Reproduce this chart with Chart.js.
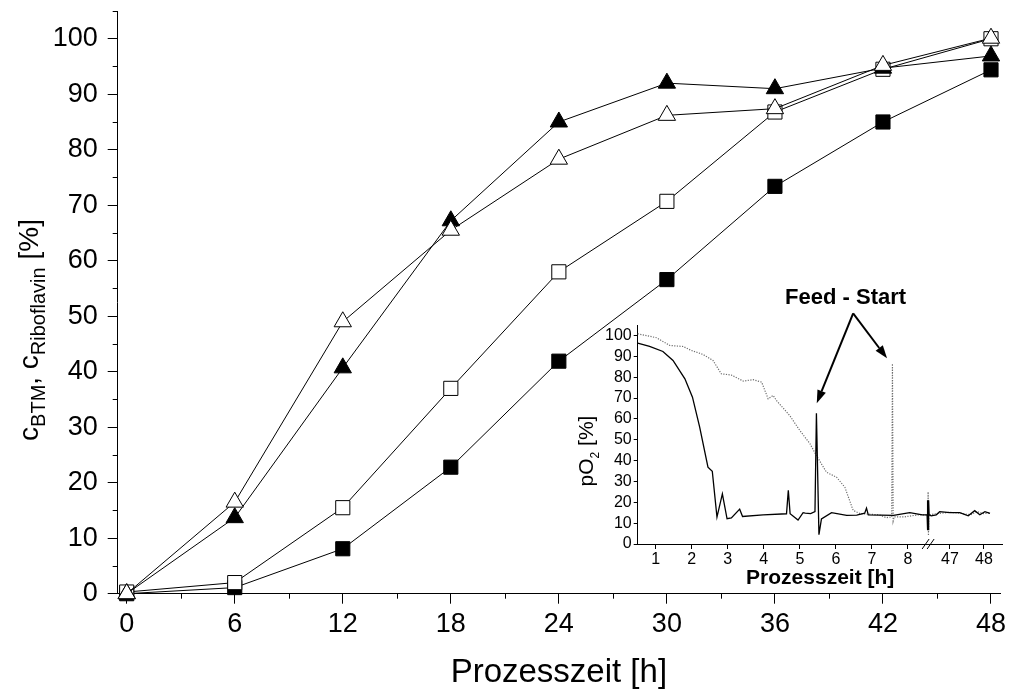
<!DOCTYPE html>
<html>
<head>
<meta charset="utf-8">
<script src="https://cdn.jsdelivr.net/npm/chart.js@4/dist/chart.umd.min.js"></script>
<style>
  html, body { margin: 0; padding: 0; background: #fff; }
  #wrap { position: relative; width: 1011px; height: 690px; overflow: hidden; }
  #main { position: absolute; left: 0; top: 0; }
  #inset { position: absolute; left: 560px; top: 280px; }
</style>
</head>
<body>
<div id="wrap">
  <canvas id="main" width="1011" height="690"></canvas>
  <canvas id="inset" width="451" height="320"></canvas>
</div>
<script>
// ---------- main plot: concentrations over process time ----------
const hours          = [0, 6, 12, 18, 24, 30, 36, 42, 48];
const openTriangle   = [0, 16.5, 49.0, 65.5, 78.3, 86.2, 87.4, 95.2, 100.1];
const filledTriangle = [0, 13.7, 40.7, 67.2, 85.0, 92.0, 91.0, 94.7, 96.9];
const openSquare     = [0.3, 2.0, 15.5, 37.0, 58.0, 70.7, 86.8, 94.5, 100.0];
const filledSquare   = [0, 1.1, 8.1, 22.8, 41.9, 56.6, 73.4, 85.0, 94.4];

const xMajorTicks = [0, 6, 12, 18, 24, 30, 36, 42, 48];
const xMinorTicks = [3, 9, 15, 21, 27, 33, 39, 45];
const yMajorTicks = [0, 10, 20, 30, 40, 50, 60, 70, 80, 90, 100];
const yMinorTicks = [5, 15, 25, 35, 45, 55, 65, 75, 85, 95, 105];

// ---------- inset: dissolved oxygen (pO2) ----------
// time axis with a break between 8.56 h and 46.36 h
const insetTickHours = [1, 2, 3, 4, 5, 6, 7, 8, 47, 48];
const insetYTicks    = [0, 10, 20, 30, 40, 50, 60, 70, 80, 90, 100];

const pO2SolidHours = [0.5, 0.83, 1.2, 1.48, 1.81, 2.02, 2.22, 2.45, 2.57, 2.70, 2.85, 2.98, 3.1, 3.33, 3.41,
  3.98, 4.63, 4.68, 4.73, 4.95, 5.09, 5.15, 5.3, 5.42, 5.46, 5.53, 5.6, 5.88, 6.3, 6.58, 6.8, 6.85, 6.9,
  7.6, 8.05, 8.4, 8.56,
  46.33, 46.34, 46.35, 46.36, 46.37, 46.38, 46.39, 46.45, 46.6, 46.7, 47.0, 47.29, 47.54, 47.73, 47.88, 48.03, 48.18];
const pO2Solid = [96.3, 94.7, 92.3, 88.0, 79.2, 70.4, 56.0, 36.8, 34.9, 12.9, 24.0, 12.1, 12.5, 16.7, 13.2,
  14.0, 14.5, 25.7, 14.5, 11.5, 15.0, 14.8, 14.6, 15.5, 62.7, 4.5, 12.0, 15.0, 13.7, 13.8, 14.8, 17.2, 14.0,
  13.7, 15.0, 14.0, 14.0,
  14.0, 21.0, 6.6, 21.0, 6.6, 21.0, 14.0, 13.5, 14.0, 15.5, 15.0, 15.0, 13.5, 16.0, 14.0, 15.5, 14.7];

const pO2DottedHours = [0.5, 1.02, 1.39, 1.76, 1.99, 2.31, 2.59, 2.82, 3.1, 3.43, 3.7, 3.94, 4.03, 4.12, 4.26,
  4.35, 4.72, 5.0, 5.28, 5.46, 5.74, 6.02, 6.25, 6.48, 6.67, 7.0, 7.2, 7.4, 7.55, 7.57, 7.59, 7.62, 7.9, 8.3, 8.56,
  46.36, 46.37, 46.38, 46.6, 47.0, 47.3, 47.6, 47.8, 48.0, 48.18];
const pO2Dotted = [100.8, 98.9, 95.2, 94.7, 92.8, 90.9, 88.0, 81.6, 81.0, 78.1, 78.8, 77.6, 73.6, 69.6, 71.2,
  68.8, 61.6, 54.4, 48.1, 42.4, 34.4, 32.0, 27.2, 16.1, 14.6, 14.2, 14.0, 12.6, 13.0, 86.4, 11.0, 13.0, 13.0, 14.0, 14.0,
  25.0, 4.0, 14.0, 14.5, 15.2, 14.8, 14.0, 15.5, 14.5, 15.0];

// annotation anchors in inset axis units (axis position, pO2 %)
const feedLabel   = 'Feed - Start';
const feedTextAt  = [6.27, 115.3];
const feedApex    = [6.48, 110.6];
const feedTips    = [[5.47, 67.5], [7.42, 89.0]];

const FONT = "'Liberation Sans', Arial, Helvetica, sans-serif";
const BREAK_FROM = 8.56, BREAK_TO = 46.36, LATE_SCALE = 0.944;
function axisPos(h) { return h <= BREAK_FROM ? h : BREAK_FROM + (h - BREAK_TO) * LATE_SCALE; }

function pts(xs, ys, map) { return xs.map((x, i) => ({ x: map ? map(x) : x, y: ys[i] })); }

// rotated axis title with subscripts
function drawRichVertical(ctx, parts, cx, baseX, mainSize, subSize, subShift) {
  ctx.save();
  const widths = parts.map(p => {
    ctx.font = (p.sub ? subSize : mainSize) + 'px ' + FONT;
    return ctx.measureText(p.t).width;
  });
  const total = widths.reduce((a, b) => a + b, 0);
  ctx.translate(baseX, cx);
  ctx.rotate(-Math.PI / 2);
  ctx.fillStyle = '#000';
  ctx.textBaseline = 'alphabetic';
  ctx.textAlign = 'left';
  let x = -total / 2;
  parts.forEach((p, i) => {
    ctx.font = (p.sub ? subSize : mainSize) + 'px ' + FONT;
    ctx.fillText(p.t, x, p.sub ? subShift : 0);
    x += widths[i];
  });
  ctx.restore();
}

const mainDecor = {
  id: 'mainDecor',
  afterDraw(chart) {
    const { ctx, scales: { x, y } } = chart;
    ctx.save();
    ctx.strokeStyle = '#000';
    ctx.lineWidth = 1;
    ctx.beginPath();
    xMinorTicks.forEach(v => {
      const px = Math.round(x.getPixelForValue(v)) + 0.5;
      ctx.moveTo(px, y.bottom); ctx.lineTo(px, y.bottom + 5);
    });
    yMinorTicks.forEach(v => {
      const py = Math.round(y.getPixelForValue(v)) + 0.5;
      ctx.moveTo(x.left, py); ctx.lineTo(x.left - 5, py);
    });
    ctx.stroke();
    ctx.restore();
    drawRichVertical(ctx, [
      { t: 'c' }, { t: 'BTM', sub: true }, { t: ', ' }, { t: 'c' }, { t: 'Riboflavin', sub: true }, { t: ' [%]' }
    ], 330, 38, 28, 20, 7);
  }
};

function seriesStyle(data, style, fill) {
  return {
    data,
    borderColor: '#000',
    borderWidth: 1,
    pointStyle: style,
    pointRadius: 10,
    pointHoverRadius: 10,
    pointBackgroundColor: fill,
    pointBorderColor: '#000',
    pointBorderWidth: 1,
    tension: 0,
    clip: false
  };
}

new Chart(document.getElementById('main'), {
  type: 'line',
  data: {
    datasets: [
      seriesStyle(pts(hours, openTriangle), 'triangle', '#fff'),
      seriesStyle(pts(hours, filledTriangle), 'triangle', '#000'),
      seriesStyle(pts(hours, openSquare), 'rect', '#fff'),
      seriesStyle(pts(hours, filledSquare), 'rect', '#000')
    ]
  },
  options: {
    responsive: false,
    devicePixelRatio: 1,
    animation: false,
    events: [],
    layout: { padding: { top: 10, right: 10, left: 0, bottom: 0 } },
    plugins: { legend: { display: false }, tooltip: { enabled: false } },
    scales: {
      x: {
        type: 'linear', min: -0.5, max: 48.5,
        afterBuildTicks: s => { s.ticks = xMajorTicks.map(v => ({ value: v })); },
        afterFit: s => { s.height = 96.3; s.paddingLeft = 0; s.paddingRight = 0; },
        ticks: { color: '#000', font: { family: FONT, size: 27 }, padding: 5, maxRotation: 0, autoSkip: false },
        grid: { drawOnChartArea: false, drawTicks: true, tickLength: 10, color: '#000', tickWidth: 1 },
        border: { display: true, color: '#000', width: 1 },
        title: { display: true, text: 'Prozesszeit [h]', color: '#000',
                 font: { family: FONT, size: 33, lineHeight: 1 }, padding: { top: 0, bottom: 1 } }
      },
      y: {
        type: 'linear', min: 0, max: 105,
        afterBuildTicks: s => { s.ticks = yMajorTicks.map(v => ({ value: v })); },
        afterFit: s => { s.width = 117.7; s.paddingTop = 0; s.paddingBottom = 0; },
        ticks: { color: '#000', font: { family: FONT, size: 27 }, padding: 10, autoSkip: false },
        grid: { drawOnChartArea: false, drawTicks: true, tickLength: 10, color: '#000', tickWidth: 1 },
        border: { display: true, color: '#000', width: 1 }
      }
    }
  },
  plugins: [mainDecor]
});

function drawArrow(ctx, x0, y0, x1, y1) {
  const a = Math.atan2(y1 - y0, x1 - x0);
  const L = 13, W = 4.5;
  const bx = x1 - L * Math.cos(a), by = y1 - L * Math.sin(a);
  ctx.beginPath(); ctx.moveTo(x0, y0); ctx.lineTo(bx, by); ctx.stroke();
  ctx.beginPath();
  ctx.moveTo(x1, y1);
  ctx.lineTo(bx + W * Math.sin(a), by - W * Math.cos(a));
  ctx.lineTo(bx - W * Math.sin(a), by + W * Math.cos(a));
  ctx.closePath(); ctx.fill();
}

const insetDecor = {
  id: 'insetDecor',
  afterDraw(chart) {
    const { ctx, scales: { x, y } } = chart;
    // axis break marks
    const bx = x.getPixelForValue(BREAK_FROM), by = y.bottom;
    ctx.save();
    ctx.strokeStyle = '#000'; ctx.lineWidth = 1;
    ctx.beginPath();
    ctx.moveTo(bx - 6, by + 5); ctx.lineTo(bx + 1, by - 5);
    ctx.moveTo(bx - 1, by + 5); ctx.lineTo(bx + 6, by - 5);
    ctx.stroke();
    // feed start annotation
    ctx.fillStyle = '#000'; ctx.strokeStyle = '#000'; ctx.lineWidth = 2;
    const ax = x.getPixelForValue(feedApex[0]), ay = y.getPixelForValue(feedApex[1]);
    feedTips.forEach(t => drawArrow(ctx, ax, ay, x.getPixelForValue(t[0]), y.getPixelForValue(t[1])));
    ctx.font = 'bold 22px ' + FONT;
    ctx.textAlign = 'center'; ctx.textBaseline = 'alphabetic';
    ctx.fillText(feedLabel, x.getPixelForValue(feedTextAt[0]), y.getPixelForValue(feedTextAt[1]));
    ctx.restore();
    drawRichVertical(ctx, [{ t: 'pO' }, { t: '2', sub: true }, { t: ' [%]' }], 171, 33, 21, 12, 6);
  }
};

new Chart(document.getElementById('inset'), {
  type: 'line',
  data: {
    datasets: [
      { data: pts(pO2SolidHours, pO2Solid, axisPos), borderColor: '#000', borderWidth: 1.3,
        pointRadius: 0, tension: 0, clip: false },
      { data: pts(pO2DottedHours, pO2Dotted, axisPos), borderColor: '#6e6e6e', borderWidth: 1.2,
        borderDash: [1.2, 1.4], pointRadius: 0, tension: 0, clip: false }
    ]
  },
  options: {
    responsive: false,
    devicePixelRatio: 1,
    animation: false,
    events: [],
    layout: { padding: { top: 45, right: 8.3, left: 0, bottom: 0 } },
    plugins: { legend: { display: false }, tooltip: { enabled: false } },
    scales: {
      x: {
        type: 'linear', min: 0.5, max: 10.63,
        afterBuildTicks: s => { s.ticks = insetTickHours.map(h => ({ value: axisPos(h) })); },
        afterFit: s => { s.height = 56; s.paddingLeft = 0; s.paddingRight = 0; },
        ticks: { color: '#000', font: { family: FONT, size: 16 }, padding: 1, maxRotation: 0, autoSkip: false,
                 callback: (v, i) => String(insetTickHours[i]) },
        grid: { drawOnChartArea: false, drawTicks: true, tickLength: 5, color: '#000', tickWidth: 1 },
        border: { display: true, color: '#000', width: 1 },
        title: { display: true, text: 'Prozesszeit [h]', color: '#000',
                 font: { family: FONT, size: 21, weight: 'bold', lineHeight: 1 }, padding: { top: 0, bottom: 11.5 } }
      },
      y: {
        type: 'linear', min: 0, max: 105,
        afterBuildTicks: s => { s.ticks = insetYTicks.map(v => ({ value: v })); },
        afterFit: s => { s.width = 77.7; s.paddingTop = 0; s.paddingBottom = 0; },
        ticks: { color: '#000', font: { family: FONT, size: 16 }, padding: 2, autoSkip: false },
        grid: { drawOnChartArea: false, drawTicks: true, tickLength: 4, color: '#000', tickWidth: 1 },
        border: { display: true, color: '#000', width: 1 }
      }
    }
  },
  plugins: [insetDecor]
});
</script>
</body>
</html>
